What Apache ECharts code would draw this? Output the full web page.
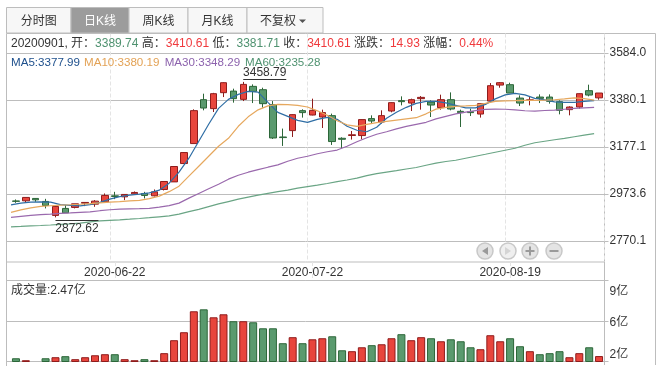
<!DOCTYPE html>
<html>
<head>
<meta charset="utf-8">
<script src="https://cdn.jsdelivr.net/npm/echarts@6/dist/echarts.min.js"></script>
<style>
html, body { margin: 0; padding: 0; background: #fff; }
#main { width: 661px; height: 375px; }
</style>
</head>
<body>
<div id="main"></div>
<script>
const dates = ['2020-06-08','2020-06-09','2020-06-10','2020-06-11','2020-06-12','2020-06-15','2020-06-16','2020-06-17','2020-06-18','2020-06-19',
    '2020-06-22','2020-06-23','2020-06-24','2020-06-29','2020-06-30','2020-07-01','2020-07-02','2020-07-03','2020-07-06','2020-07-07',
    '2020-07-08','2020-07-09','2020-07-10','2020-07-13','2020-07-14','2020-07-15','2020-07-16','2020-07-17','2020-07-20','2020-07-21',
    '2020-07-22','2020-07-23','2020-07-24','2020-07-27','2020-07-28','2020-07-29','2020-07-30','2020-07-31','2020-08-03','2020-08-04',
    '2020-08-05','2020-08-06','2020-08-07','2020-08-10','2020-08-11','2020-08-12','2020-08-13','2020-08-14','2020-08-17','2020-08-18',
    '2020-08-19','2020-08-20','2020-08-21','2020-08-24','2020-08-25','2020-08-26','2020-08-27','2020-08-28','2020-08-31','2020-09-01'];
const dateLabels = ['2020-06-22', '2020-07-22', '2020-08-19'];

// open, close, low, high
const candles = [
    [2943.6,2941.9,2935.4,2950.1],[2944.1,2958.8,2938.5,2958.8],[2954.4,2948.4,2939.8,2955.7],[2941.5,2924.2,2911.3,2952.7],
    [2881.0,2919.9,2872.62,2925.5],[2911.3,2892.2,2892.2,2925.5],[2915.6,2931.1,2911.3,2931.1],[2934.1,2937.2,2921.2,2937.2],
    [2929.8,2942.8,2918.2,2947.1],[2939.8,2967.4,2938.5,2976.0],[2965.7,2963.1,2951.4,2983.0],[2961.4,2971.7,2947.1,2973.0],
    [2974.3,2980.3,2973.0,2984.7],[2976.0,2967.4,2954.4,2983.0],[2965.7,2983.0,2963.1,2993.3],[2993.3,3027.8,2989.0,3027.8],
    [3026.1,3092.6,3026.1,3093.9],[3105.5,3153.0,3105.5,3154.4],[3191.9,3334.4,3191.9,3340.0],[3381.9,3345.7,3335.7,3407.8],
    [3343.0,3407.8,3328.4,3411.3],[3412.1,3455.3,3393.2,3457.0],[3419.0,3386.2,3369.0,3429.4],[3383.2,3448.0,3375.9,3458.79],
    [3439.4,3417.8,3367.2,3448.0],[3425.1,3364.6,3347.4,3433.7],[3360.3,3216.1,3211.8,3375.9],[3220.4,3217.8,3181.6,3256.7],
    [3248.0,3317.1,3220.4,3318.4],[3334.4,3325.8,3304.2,3340.0],[3315.4,3335.7,3314.1,3386.2],[3306.8,3325.8,3259.3,3338.7],
    [3312.8,3200.6,3185.9,3321.5],[3214.8,3210.5,3172.9,3219.1],[3226.9,3229.9,3209.2,3246.3],[3226.5,3295.6,3210.5,3296.9],
    [3299.9,3289.5,3280.9,3314.1],[3285.2,3312.8,3278.3,3335.7],[3332.7,3369.0,3327.1,3370.3],[3377.6,3373.3,3357.3,3396.2],
    [3367.2,3381.9,3332.7,3386.2],[3386.2,3391.8,3338.7,3397.5],[3371.5,3358.6,3306.8,3378.9],[3347.4,3381.9,3338.7,3403.5],
    [3381.9,3341.4,3335.7,3413.4],[3331.4,3325.8,3263.6,3338.7],[3330.1,3325.8,3311.1,3343.0],[3319.7,3364.6,3304.2,3367.2],
    [3375.9,3442.4,3375.9,3453.6],[3445.0,3455.3,3433.7,3458.0],[3446.7,3410.4,3410.4,3455.3],[3388.8,3367.2,3354.3,3400.5],
    [3378.9,3381.1,3357.3,3393.2],[3393.2,3387.5,3367.2,3404.8],[3393.2,3374.6,3364.6,3404.8],[3373.3,3335.7,3318.4,3378.9],
    [3338.7,3350.0,3314.1,3353.0],[3350.0,3407.8,3343.0,3409.0],[3420.8,3401.8,3396.2,3446.7],[3389.74,3410.61,3381.71,3410.61]
];
const ma5 = [2926.8,2934.1,2938.5,2939.8,2938.5,2927.7,2924.2,2922.5,2927.7,2937.2,2951.4,2962.2,2968.7,2973.0,2978.6,2990.3,3020.5,3068.0,3128.5,3201.9,
    3275.3,3344.4,3383.2,3404.8,3417.8,3414.7,3370.3,3327.1,3309.8,3292.5,3283.9,3296.9,3305.5,3296.9,3266.6,3249.4,3242.9,3262.3,3301.2,3327.1,
    3348.7,3365.9,3374.6,3374.6,3368.1,3357.3,3346.5,3346.5,3361.6,3385.4,3402.6,3409.1,3402.6,3387.5,3381.1,3372.4,3370.3,3370.3,3374.6,3377.99];
const ma10 = [2894.0,2904.8,2913.8,2919.9,2922.9,2925.5,2927.2,2929.4,2932.0,2935.4,2938.5,2940.6,2943.6,2945.8,2953.6,2964.4,2983.8,3007.5,3050.7,3093.9,
    3137.1,3180.3,3214.8,3266.6,3307.6,3337.9,3355.1,3361.6,3360.8,3357.3,3350.0,3333.6,3314.1,3290.4,3273.1,3266.6,3275.3,3282.6,3288.2,3293.4,
    3298.6,3303.8,3320.6,3340.9,3348.7,3353.0,3354.7,3357.3,3365.9,3374.6,3376.7,3377.6,3378.9,3378.9,3379.8,3381.5,3384.9,3389.3,3386.2,3380.19];
const ma30 = [2872.4,2876.7,2881.0,2884.5,2886.6,2889.7,2891.8,2894.4,2896.6,2901.3,2905.6,2907.8,2909.1,2910.0,2911.3,2916.9,2923.4,2934.1,2955.7,2976.0,
    2996.3,3016.2,3037.8,3055.0,3068.0,3078.8,3089.6,3099.5,3115.5,3128.5,3137.1,3147.9,3156.5,3163.9,3180.3,3199.7,3217.0,3232.1,3242.9,3255.8,
    3266.6,3275.3,3283.9,3299.0,3309.8,3320.6,3328.0,3334.4,3339.6,3341.3,3340.5,3337.4,3334.0,3332.7,3334.9,3337.0,3340.5,3343.9,3346.5,3348.29];
const ma60 = [2831.8,2833.5,2835.7,2837.4,2839.6,2842.2,2844.8,2847.8,2853.0,2857.7,2859.9,2862.0,2864.6,2867.6,2871.1,2875.0,2878.9,2886.6,2897.4,2907.4,
    2919.0,2930.7,2941.0,2951.4,2960.0,2968.7,2976.4,2983.8,2990.3,2998.9,3005.4,3011.9,3019.2,3027.0,3034.3,3042.1,3052.9,3061.5,3068.0,3074.5,
    3081.8,3088.3,3098.2,3106.9,3114.2,3119.8,3128.5,3137.1,3145.7,3154.4,3163.0,3171.6,3184.6,3195.4,3201.9,3208.4,3214.0,3221.3,3228.7,3235.28];
// 亿
const volumes = [2.28,2.11,2.03,2.28,2.37,2.46,2.20,2.37,2.54,2.63,2.63,2.20,2.11,2.20,2.11,2.72,3.84,4.53,6.34,6.51,
    5.82,6.08,5.48,5.48,5.39,4.87,4.87,3.58,4.10,3.58,3.92,4.01,4.18,2.97,2.89,3.23,3.41,3.49,4.01,4.36,
    3.84,4.10,4.01,3.75,3.92,3.75,3.23,3.06,4.27,3.75,4.01,3.32,2.89,2.63,2.72,2.89,2.37,2.72,3.23,2.47];

const priceTicks = [2770.1, 2973.6, 3177.1, 3380.1, 3584.0];
const volumeTicks = [2, 5.5, 9];

const FONT = '"Liberation Sans", "Noto Sans CJK SC", sans-serif';
const RED = '#e8453c', RED_DARK = '#8f1c1c', GREEN = '#5a9a6e', GREEN_DARK = '#2c6638';
const LINE = '#bdbdbd';

const chart = echarts.init(document.getElementById('main'), null, { renderer: 'canvas' });

const isLabelled = (i) => dateLabels.indexOf(dates[i]) >= 0;

// graphic text goes straight to zrender, so rich tokens take fill, not color
const rich = {
    k: { fontFamily: FONT, fontSize: 12, fill: '#333' },
    g: { fontFamily: FONT, fontSize: 12, fill: '#4f9270' },
    r: { fontFamily: FONT, fontSize: 12, fill: '#f0393c' }
};

const text = (x, y, str, color, align, size) => ({
    type: 'text', x: x, y: y, z: 20, silent: true,
    style: { text: str, fill: color || '#333', font: (size || 12) + 'px ' + FONT, align: align || 'center', verticalAlign: 'middle', rich: rich }
});
const seg = (x1, y1, x2, y2, color) => ({
    type: 'line', z: 5, silent: true, shape: { x1: x1, y1: y1, x2: x2, y2: y2 }, style: { stroke: color || LINE, lineWidth: 1 }
});
const box = (x, y, w, h, fill) => ({
    type: 'rect', z: 4, silent: true, shape: { x: x, y: y, width: w, height: h }, style: { fill: fill, stroke: LINE, lineWidth: 1 }
});

const tabs = [
    { x: 6.5, w: 64.5, label: '分时图' },
    { x: 71, w: 58, label: '日K线', on: true },
    { x: 129, w: 59, label: '周K线' },
    { x: 188, w: 59, label: '月K线' },
    { x: 247, w: 76, label: '不复权', dx: -7 }
];

const btn = (x, fill, mark, icon) => {
    const out = [{
        type: 'circle', z: 6, silent: true, shape: { cx: x, cy: 251, r: 8 },
        style: { fill: fill, stroke: '#c8c8c8', lineWidth: 1.5 }
    }];
    icon.forEach(p => {
        out.push({ type: 'polygon', z: 7, silent: true, shape: { points: p.map(q => [x + q[0], 251 + q[1]]) }, style: { fill: mark } });
    });
    return out;
};
const bar = (w, h) => [[-w, -h], [w, -h], [w, h], [-w, h]];

const baseGraphic = [];
tabs.forEach(t => {
    baseGraphic.push(box(t.x, 7.5, t.w, 25.5, t.on ? '#9c9c9c' : '#f7f7f7'));
    baseGraphic.push(text(t.x + t.w / 2 + (t.dx || 0), 22, t.label, t.on ? '#fff' : '#333'));
});
baseGraphic.push({ type: 'polygon', z: 6, silent: true, shape: { points: [[299, 19.5], [306, 19.5], [302.5, 23]] }, style: { fill: '#555' } });
baseGraphic.push(seg(604.5, 33.5, 655.5, 33.5));
baseGraphic.push(seg(655.5, 33.5, 655.5, 365));
baseGraphic.push(seg(6.5, 262, 6.5, 366));
baseGraphic.push(seg(604.5, 262, 604.5, 365));
baseGraphic.push(text(11, 44, '{k|20200901, 开：}{g|3389.74}{k| 高：}{r|3410.61}{k| 低：}{g|3381.71}{k| 收：}{r|3410.61}{k| 涨跌：}{r|14.93}{k| 涨幅：}{r|0.44%}', null, 'left'));
baseGraphic.push(text(11, 62.5, 'MA5:3377.99', '#1d4f8c', 'left', 11.6));
baseGraphic.push(text(84, 62.5, 'MA10:3380.19', '#e3a255', 'left', 11.6));
baseGraphic.push(text(164.7, 62.5, 'MA30:3348.29', '#8c62ad', 'left', 11.6));
baseGraphic.push(text(245, 62.5, 'MA60:3235.28', '#4f9270', 'left', 11.6));
baseGraphic.push(text(11, 291, '成交量:2.47亿', '#333', 'left'));
btn(485, '#e4e4e4', '#9a9a9a', [[[3, -4], [3, 4], [-3, 0]]]).forEach(g => baseGraphic.push(g));
btn(508, '#efefef', '#d4d4d4', [[[-3, -4], [-3, 4], [3, 0]]]).forEach(g => baseGraphic.push(g));
btn(530, '#e4e4e4', '#9a9a9a', [bar(4.5, 1), bar(1, 4.5)]).forEach(g => baseGraphic.push(g));
btn(554, '#e4e4e4', '#9a9a9a', [bar(4.5, 1)]).forEach(g => baseGraphic.push(g));

const yHidden = (gridIndex, min, max) => ({
    type: 'value', gridIndex: gridIndex, min: min, max: max, show: false, scale: true, splitLine: { show: false }
});
const xHidden = (gridIndex, data, boundaryGap) => ({
    type: 'category', gridIndex: gridIndex, data: data, show: false, boundaryGap: boundaryGap
});

const PRICE_MIN = 2679.4, PRICE_MAX = 3668.2;

const lineSeries = (name, data, color) => ({
    name: name, type: 'line', xAxisIndex: 2, yAxisIndex: 1, data: data, showSymbol: false, symbol: 'none',
    smooth: false, lineStyle: { color: color, width: 1.2 }, silent: true, z: 4
});

chart.setOption({
    animation: false,
    backgroundColor: '#fff',
    grid: [
        { left: 6.5, width: 598, top: 33.5, height: 228.5, show: true, borderColor: LINE, borderWidth: 1, backgroundColor: 'transparent' },
        { left: 11, width: 593, top: 33.5, height: 228.5 },
        { left: 6.5, width: 598, top: 280.5, height: 81, show: true, borderColor: LINE, borderWidth: 1, backgroundColor: 'transparent' },
        { left: 11, width: 593, top: 280.5, height: 81 }
    ],
    xAxis: [
        xHidden(0, [''], true),
        {
            type: 'category', gridIndex: 1, data: dates, boundaryGap: true,
            axisLine: { show: false },
            axisTick: { show: true, alignWithLabel: true, length: 18, interval: (i) => isLabelled(i), lineStyle: { color: '#e4e4e4', type: 'dashed' } },
            axisLabel: { interval: (i) => isLabelled(i), color: '#333', fontFamily: FONT, fontSize: 12, margin: 5 },
            splitLine: { show: true, interval: (i) => isLabelled(i), lineStyle: { color: '#e4e4e4', type: 'dashed', width: 1 } }
        },
        xHidden(1, dates.concat(['']), false),
        xHidden(2, [''], true),
        xHidden(3, dates, true)
    ],
    yAxis: [
        {
            type: 'value', gridIndex: 0, position: 'right', min: PRICE_MIN, max: PRICE_MAX, scale: true,
            axisLine: { show: false },
            axisTick: { show: true, length: 4, customValues: priceTicks, lineStyle: { color: LINE } },
            axisLabel: {
                customValues: priceTicks, margin: 5, color: '#333', fontFamily: FONT, fontSize: 12, padding: [3, 0, 0, 0],
                formatter: (v) => v.toFixed(1)
            },
            splitLine: { show: true, lineStyle: { color: LINE, width: 1 } }
        },
        yHidden(1, PRICE_MIN, PRICE_MAX),
        {
            type: 'value', gridIndex: 2, position: 'right', min: 2, max: 9, scale: true,
            axisLine: { show: false },
            axisTick: { show: true, length: 4, customValues: volumeTicks, lineStyle: { color: LINE } },
            axisLabel: {
                customValues: volumeTicks, margin: 5, color: '#333', fontFamily: FONT, fontSize: 12,
                formatter: (v) => '{' + (v === 9 ? 'top' : v === 2 ? 'low' : 'mid') + '|' + Math.round(v) + '亿}',
                rich: {
                    top: { fontFamily: FONT, fontSize: 12, color: '#333', padding: [22, 0, 0, 0] },
                    mid: { fontFamily: FONT, fontSize: 12, color: '#333', padding: [3, 0, 0, 0] },
                    low: { fontFamily: FONT, fontSize: 12, color: '#333', padding: [0, 0, 14, 0] }
                }
            },
            splitLine: { show: true, lineStyle: { color: LINE, width: 1 } }
        },
        yHidden(3, 2, 9)
    ],
    series: [
        {
            name: 'K', type: 'candlestick', xAxisIndex: 1, yAxisIndex: 1, data: candles, barWidth: 7, silent: true, z: 3,
            itemStyle: { color: RED, color0: GREEN, borderColor: RED_DARK, borderColor0: GREEN_DARK, borderWidth: 1 }
        },
        lineSeries('MA5', ma5, '#2f6ea5'),
        lineSeries('MA10', ma10, '#e6a85e'),
        lineSeries('MA30', ma30, '#9a69ad'),
        lineSeries('MA60', ma60, '#6aa585'),
        {
            name: '成交量', type: 'bar', xAxisIndex: 4, yAxisIndex: 3, barWidth: 8, silent: true,
            data: volumes.map((v, i) => {
                const up = candles[i][1] >= candles[i][0];
                return { value: v, itemStyle: { color: up ? RED : GREEN, borderColor: up ? RED_DARK : GREEN_DARK, borderWidth: 1 } };
            })
        }
    ],
    graphic: baseGraphic
});

// high / low tags hang off the real candle position
const hiIdx = candles.reduce((b, c, i) => (c[3] > candles[b][3] ? i : b), 0);
const loIdx = candles.reduce((b, c, i) => (c[2] < candles[b][2] ? i : b), 0);
const hiPt = chart.convertToPixel({ xAxisIndex: 1, yAxisIndex: 1 }, [hiIdx, candles[hiIdx][3]]);
const loPt = chart.convertToPixel({ xAxisIndex: 1, yAxisIndex: 1 }, [loIdx, candles[loIdx][2]]);
chart.setOption({
    graphic: baseGraphic.concat([
        seg(hiPt[0], Math.round(hiPt[1] - 3) + 0.5, hiPt[0] + 43, Math.round(hiPt[1] - 3) + 0.5, '#333'),
        text(hiPt[0] + 21.5, hiPt[1] - 9, candles[hiIdx][3].toFixed(2), '#333'),
        seg(loPt[0], Math.round(loPt[1] + 3) + 0.5, loPt[0] + 43, Math.round(loPt[1] + 3) + 0.5, '#333'),
        text(loPt[0] + 21.5, loPt[1] + 11, candles[loIdx][2].toFixed(2), '#333')
    ])
});
</script>
</body>
</html>
